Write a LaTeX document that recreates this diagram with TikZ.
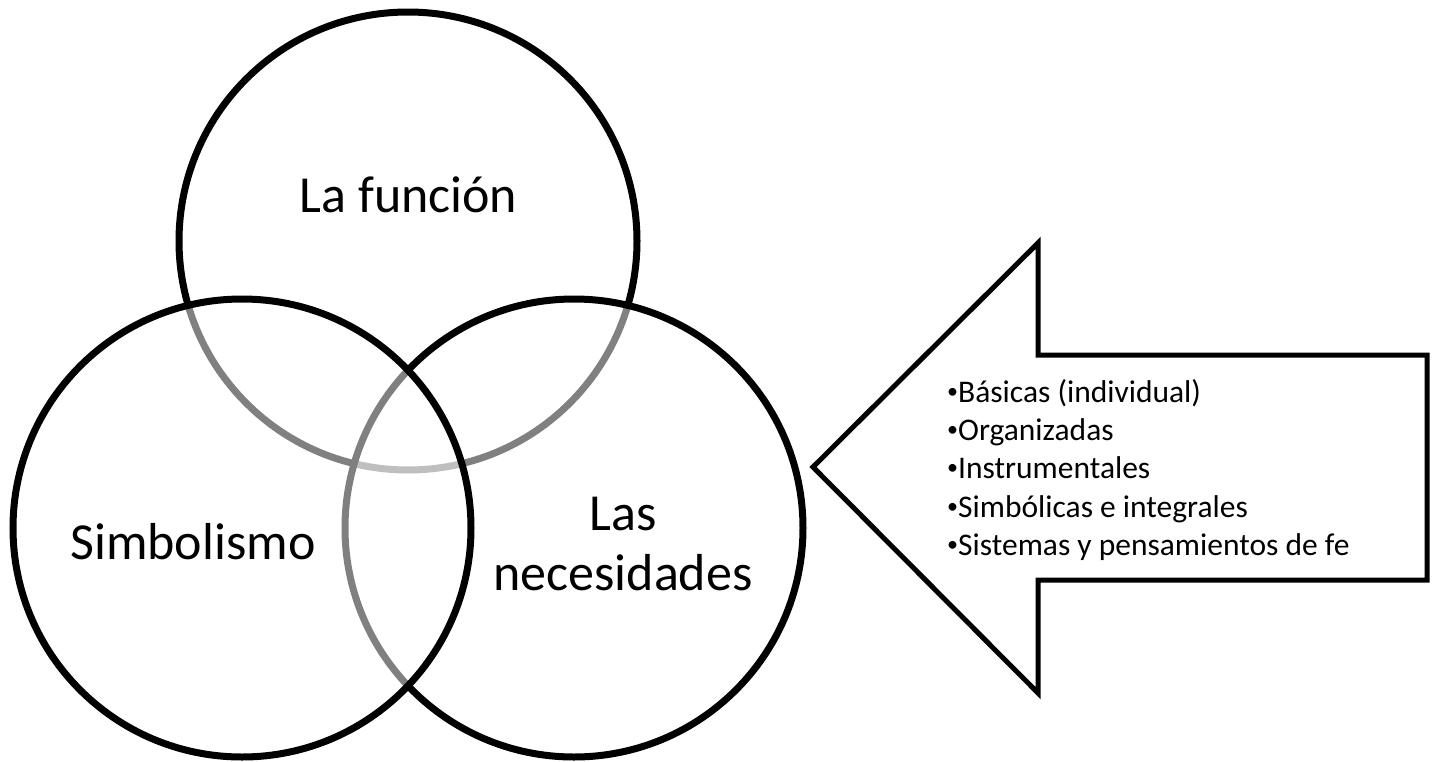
\documentclass[tikz,border=0pt]{standalone}
\usepackage{fontspec}
\usepackage{graphicx}
\setmainfont{Carlito}
\newcommand{\smallbul}{\raisebox{0.12em}{\scalebox{0.7}{•}}}
\begin{document}
\begin{tikzpicture}[x=1pt,y=-1pt,
  venn/.style={circle, draw=black, line width=7pt, fill=white, fill opacity=0.5, text opacity=1, minimum size=458pt, inner sep=0pt, outer sep=0pt},
  bigtxt/.style={anchor=base, inner sep=0pt, font=\fontsize{52}{62}\selectfont},
  listtxt/.style={anchor=base west, inner sep=0pt, font=\fontsize{31.5}{38}\selectfont},
  arrowshape/.style={draw=black, line width=5pt, line join=miter, fill=white}]
\fill[white] (0,0) rectangle (1433,761);
\useasboundingbox (0,0) rectangle (1433,761);
% circles (drawing order: top, right, left)
\node[venn] (funcion) at (408,241) {};
\node[venn] (necesidades) at (574,528) {};
\node[venn] (simbolismo) at (242,528) {};
% circle labels
\node[bigtxt] (tfun) at (408.5,212) {La función};
\node[bigtxt] (tsim) at (193,559) {Simbolismo};
\node[bigtxt] (tlas) at (623,530) {Las};
\node[bigtxt] (tnec) at (623,590) {necesidades};
% arrow
\coordinate (a1) at (1427,355);
\coordinate (a2) at (1038,355);
\coordinate (a3) at (1038,243);
\coordinate (a4) at (813,467);
\coordinate (a5) at (1038,693);
\coordinate (a6) at (1038,580);
\coordinate (a7) at (1427,580);
\draw[arrowshape] (a1) -- (a2) -- (a3) -- (a4) -- (a5) -- (a6) -- (a7) -- cycle;
% list
\node[listtxt] (l1) at (947,402) {\smallbul Básicas (individual)};
\node[listtxt] (l2) at (947,440) {\smallbul Organizadas};
\node[listtxt] (l3) at (947,478) {\smallbul Instrumentales};
\node[listtxt] (l4) at (947,517) {\smallbul Simbólicas e integrales};
\node[listtxt] (l5) at (947,555) {\smallbul Sistemas y pensamientos de fe};
\end{tikzpicture}
\end{document}
